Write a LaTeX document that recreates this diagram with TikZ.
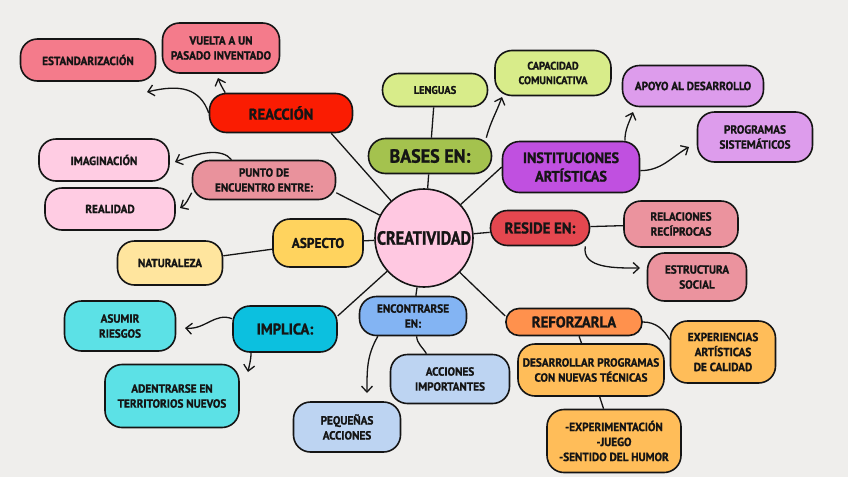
\documentclass[tikz,border=0pt]{standalone}
\usepackage{fontspec}
\setmainfont[FakeStretch=0.95, BoldFeatures={FakeBold=1.2}]{PT Sans}
\newfontfamily\condfont[FakeStretch=0.85, BoldFeatures={FakeBold=1.2}]{PT Sans}
\usepackage{tikz}
\usepackage{xcolor}
\usetikzlibrary{shapes,arrows.meta,positioning,calc}

\definecolor{paper}{HTML}{EFEEEC}
\definecolor{salmon}{HTML}{F47B8B}
\definecolor{redbox}{HTML}{FA1C02}
\definecolor{lightpink}{HTML}{FFCCE3}
\definecolor{dustpink}{HTML}{E9929C}
\definecolor{yellowbox}{HTML}{FFD35E}
\definecolor{lightyellow}{HTML}{FFE59E}
\definecolor{lightcyan}{HTML}{5CE1E6}
\definecolor{cyanbox}{HTML}{0CC0DF}
\definecolor{bluebox}{HTML}{83B4F3}
\definecolor{lightblue}{HTML}{BDD4F2}
\definecolor{creapink}{HTML}{FFC8E1}
\definecolor{olive}{HTML}{A4C24E}
\definecolor{lightgreen}{HTML}{D8EC8A}
\definecolor{purplebox}{HTML}{C050E0}
\definecolor{lightpurple}{HTML}{DD9CEC}
\definecolor{residered}{HTML}{E4474F}
\definecolor{rosebox}{HTML}{EB939E}
\definecolor{orangebox}{HTML}{FF914D}
\definecolor{lightorange}{HTML}{FFBD59}
\definecolor{ink}{HTML}{151515}

\begin{document}
\begin{tikzpicture}[x=1pt, y=-1pt,
    box/.style={draw=ink, line width=1.6pt, rounded corners=17pt, align=center, inner sep=0pt, text=ink,
        font=\bfseries\fontsize{11.8}{15}\selectfont},
    big/.style={font=\bfseries\fontsize{15.5}{18}\selectfont},
    sz/.style 2 args={minimum width=#1pt, minimum height=#2pt},
    link/.style={line width=1.3pt, draw=ink},
    arr/.style={link, -{Straight Barb[length=6pt, width=11pt]}}]
    % paper
    \fill[paper] (0,0) rectangle (848,477);

    % centre
    \node[draw=ink, line width=1.6pt, circle, minimum size=98pt, inner sep=0pt, fill=creapink, text=ink,
        font=\condfont\bfseries\fontsize{19}{21}\selectfont] (crea) at (424,238) {CREATIVIDAD};

    % upper left branch
    \node[box, big, sz={143}{39}, fill=redbox] (reac) at (281,113) {REACCIÓN};
    \node[box, sz={135}{42}, fill=salmon] (estand) at (88,60) {ESTANDARIZACIÓN};
    \node[box, sz={117}{50}, fill=salmon] (vuelta) at (221,48) {VUELTA A UN\\PASADO INVENTADO};
    \node[box, sz={143}{39}, fill=dustpink] (punto) at (264,180) {PUNTO DE\\ENCUENTRO ENTRE:};
    \node[box, sz={130}{42}, fill=lightpink] (imag) at (104,160) {IMAGINACIÓN};
    \node[box, sz={130}{42}, fill=lightpink] (real) at (110,209) {REALIDAD};
    \node[box, font=\bfseries\fontsize{14}{16}\selectfont, sz={90}{48}, fill=yellowbox] (asp) at (318,243) {ASPECTO};
    \node[box, sz={105}{44}, fill=lightyellow] (nat) at (170,263) {NATURALEZA};

    % lower left branch
    \node[box, big, sz={104}{46}, fill=cyanbox] (impl) at (285,329) {IMPLICA:};
    \node[box, sz={111}{50}, fill=lightcyan] (asu) at (120,326) {ASUMIR\\RIESGOS};
    \node[box, sz={134}{63}, fill=lightcyan] (aden) at (172,396) {ADENTRARSE EN\\TERRITORIOS NUEVOS};
    \node[box, sz={107}{39}, fill=bluebox] (enc) at (413,316) {ENCONTRARSE\\EN:};
    \node[box, sz={119}{49}, fill=lightblue] (accimp) at (450,379) {ACCIONES\\IMPORTANTES};
    \node[box, sz={107}{50}, fill=lightblue] (peq) at (347,427) {PEQUEÑAS\\ACCIONES};

    % upper right branch
    \node[box, font=\bfseries\fontsize{19}{21}\selectfont, sz={123}{35}, fill=olive] (bases) at (430,156) {BASES EN:};
    \node[box, rounded corners=16pt, font=\bfseries\fontsize{11}{14}\selectfont, sz={105}{33}, fill=lightgreen] (leng) at (435,90) {LENGUAS};
    \node[box, font=\bfseries\fontsize{11}{14.5}\selectfont, sz={116}{45}, fill=lightgreen] (cap) at (553,73) {CAPACIDAD\\COMUNICATIVA};
    \node[box, font=\bfseries\fontsize{15}{18.5}\selectfont, sz={137}{51}, fill=purplebox] (inst) at (571,167) {INSTITUCIONES\\ARTÍSTICAS};
    \node[box, sz={141}{41}, fill=lightpurple] (apoyo) at (693,86) {APOYO AL DESARROLLO};
    \node[box, sz={115}{50}, fill=lightpurple] (prog) at (755,137) {PROGRAMAS\\SISTEMÁTICOS};

    % lower right branch
    \node[box, big, sz={99}{35}, fill=residered] (res) at (540,228) {RESIDE EN:};
    \node[box, sz={114}{46}, fill=rosebox] (rel) at (681,224) {RELACIONES\\RECÍPROCAS};
    \node[box, sz={99}{48}, fill=rosebox] (estr) at (697,277) {ESTRUCTURA\\SOCIAL};
    \node[box, big, rounded corners=13pt, sz={136}{27}, fill=orangebox] (refz) at (574,322) {REFORZARLA};
    \node[box, sz={105}{62}, fill=lightorange] (exper) at (723,352) {EXPERIENCIAS\\ARTÍSTICAS\\DE CALIDAD};
    \node[box, sz={146}{52}, fill=lightorange] (desarr) at (591,370) {DESARROLLAR PROGRAMAS\\CON NUEVAS TÉCNICAS};
    \node[box, sz={134}{63}, fill=lightorange] (expjs) at (614,441) {-EXPERIMENTACIÓN\\-JUEGO\\-SENTIDO DEL HUMOR};

    % arrow tips
    \coordinate (tipEst) at (147,92);
    \coordinate (tipVue) at (218,78);
    \coordinate (tipImag) at (175,162);
    \coordinate (tipReal) at (180,208);
    \coordinate (tipCap) at (502,97);
    \coordinate (tipApo) at (633,112);
    \coordinate (tipProg) at (689,147);
    \coordinate (tipEstr) at (640,268);
    \coordinate (tipPeq) at (367,393);
    \coordinate (tipAsu) at (185,328);
    \coordinate (tipAden) at (248,372);

    % spokes
    \draw[link] (crea) -- (reac.-22);
    \draw[link] (crea) -- (punto.-10);
    \draw[link] (crea) -- (asp);
    \draw[link] (crea) -- (bases);
    \draw[link] (crea) -- (inst.west);
    \draw[link] (crea) -- (res);
    \draw[link] (crea) -- (enc);
    \draw[link] (crea) -- (impl.14);
    \draw[link] (crea) -- (refz.175);

    % branches
    \draw[link] (asp) -- (nat);
    \draw[link] (leng) -- (bases);
    \draw[link] (res) -- (rel);
    \draw[link] (refz) -- (desarr);
    \draw[link] (desarr) -- (expjs);
    \draw[link] (refz.east) to[out=0, in=120] (exper.167);
    \draw[link] (enc.-80) to[out=-85, in=120] (accimp.133);
    \draw[arr] (reac.west) .. controls (200,88) and (180,84) .. (tipEst);
    \draw[arr] (reac.160) to[out=120, in=-70] (tipVue);
    \draw[arr] (punto.148) .. controls (222,148) and (200,152) .. (tipImag);
    \draw[arr] (punto.190) to[out=-120, in=30] (tipReal);
    \draw[arr] (bases.18) to[out=75, in=-110] (tipCap);
    \draw[arr] (inst.26) to[out=90, in=-110] (tipApo);
    \draw[arr] (inst.-3) to[out=0, in=210] (tipProg);
    \draw[arr] (res.-22) to[out=-100, in=180] (tipEstr);
    \draw[arr] (enc.210) to[out=-120, in=90] (tipPeq);
    \draw[arr] (impl.169) .. controls (215,312) and (205,330) .. (tipAsu);
    \draw[arr] (impl.215) to[out=-90, in=80] (tipAden);
\end{tikzpicture}
\end{document}
